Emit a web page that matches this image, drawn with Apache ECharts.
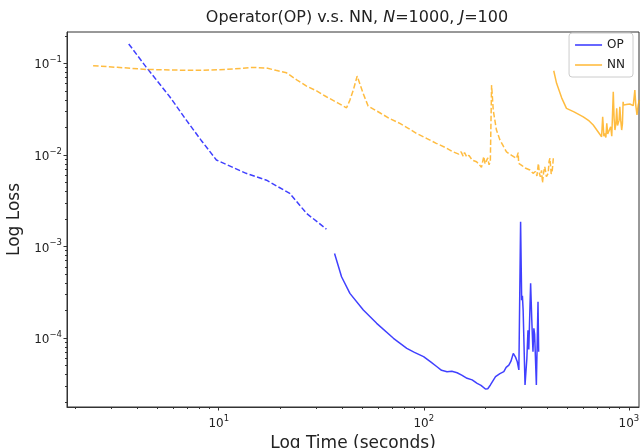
<!DOCTYPE html>
<html><head><meta charset="utf-8">
<script src="https://cdn.jsdelivr.net/npm/echarts@6/dist/echarts.min.js"></script>
<style>html,body{margin:0;padding:0;background:#fff}#c{width:641px;height:448px}</style>
</head><body><div id="c"></div>
<script>
const opDashedX = [3.64, 4.4, 5.77, 6.95, 8.2, 9.74, 11.5, 13.6, 17.1, 22.2, 26.8, 33.5];
const opDashedY = [0.163, 0.0927, 0.0432, 0.024, 0.0145, 0.0088, 0.00745, 0.0063, 0.0053, 0.0038, 0.0023, 0.00155];

const opSolidX = [36.7, 39.7, 43.6, 50.7, 58.9, 71.1, 82.6, 90, 99.7, 108, 115.9, 122, 129.8, 137, 145.3, 153, 162.5, 172, 182, 190, 199.7, 205, 211.2, 223.7, 235, 245.5, 252, 259.8, 266, 273, 280, 285.6, 290.7, 296.4, 300, 302.5, 305, 311.5, 318, 322, 325, 331.7, 336, 340.6, 344, 347, 353.8, 360.4, 363];
const opSolidY = [8.4e-4, 4.68e-4, 3.08e-4, 2.03e-4, 1.45e-4, 9.96e-5, 7.74e-5, 7.0e-5, 6.27e-5, 5.5e-5, 4.87e-5, 4.45e-5, 4.30e-5, 4.35e-5, 4.19e-5, 3.95e-5, 3.64e-5, 3.5e-5, 3.21e-5, 3.05e-5, 2.78e-5, 2.8e-5, 3.08e-5, 3.79e-5, 4.1e-5, 4.3e-5, 4.8e-5, 5.08e-5, 5.6e-5, 6.82e-5, 6.2e-5, 5.52e-5, 4.49e-5, 1.87e-3, 2.6e-4, 2.9e-4, 2.0e-4, 3.08e-5, 6.0e-5, 1.22e-4, 7.5e-5, 3.96e-4, 1.6e-4, 7.1e-5, 1.28e-4, 1.1e-4, 3.08e-5, 2.5e-4, 7.1e-5];

const nnDashedX = [2.44, 3.2, 4.43, 6, 7.5, 9, 10.9, 12.8, 14.7, 17.1, 19, 21.4, 24, 26.8, 30, 33.5, 38, 42, 43.6, 45.3, 47.3, 50.6, 53.5, 61, 68, 76.4, 84, 92, 103, 115, 127, 139, 148, 152, 155.5, 158, 162, 166, 172, 180.7, 186, 191, 196, 199, 202, 205, 208, 211, 214, 218, 226, 235, 245, 253, 268, 283, 288.5, 290, 300, 312, 329, 341, 350, 356, 362, 366, 370, 375, 379, 384, 389, 396, 404, 408, 412, 418, 423, 428];
const nnDashedY = [0.0942, 0.0905, 0.0859, 0.0845, 0.0839, 0.0845, 0.0859, 0.088, 0.0904, 0.0889, 0.084, 0.0789, 0.066, 0.0565, 0.05, 0.0432, 0.037, 0.0327, 0.0397, 0.051, 0.0726, 0.047, 0.0342, 0.0289, 0.025, 0.0221, 0.0195, 0.0172, 0.0152, 0.0134, 0.0121, 0.0108, 0.0102, 0.0108, 0.0097, 0.0106, 0.0095, 0.0099, 0.0088, 0.00843, 0.0079, 0.00732, 0.0096, 0.008, 0.00776, 0.0093, 0.0078, 0.0085, 0.058, 0.0309, 0.0187, 0.0146, 0.0123, 0.0108, 0.0099, 0.00918, 0.0106, 0.0081, 0.0077, 0.0072, 0.00684, 0.0063, 0.0066, 0.0059, 0.0081, 0.0063, 0.00578, 0.0068, 0.00497, 0.0065, 0.00743, 0.0058, 0.0063, 0.0085, 0.0092, 0.0062, 0.0068, 0.0092];

const nnSolidX = [430, 444, 470, 496, 540, 599, 640, 670, 700, 736, 745, 755, 764, 772, 780, 788, 795, 805, 815, 825, 839, 847, 855, 864, 872, 880, 889, 896, 903, 912, 922, 930, 937, 942, 955, 970, 990, 1010, 1030, 1050, 1069, 1080, 1095, 1110, 1125];
const nnSolidY = [0.083, 0.0605, 0.042, 0.0323, 0.0295, 0.0261, 0.0235, 0.0212, 0.0185, 0.0158, 0.0261, 0.016, 0.0172, 0.0155, 0.0221, 0.017, 0.0165, 0.0175, 0.0203, 0.016, 0.049, 0.025, 0.0187, 0.022, 0.0323, 0.021, 0.0203, 0.024, 0.0336, 0.024, 0.0187, 0.022, 0.0381, 0.035, 0.034, 0.0355, 0.0359, 0.036, 0.035, 0.0345, 0.0512, 0.035, 0.0273, 0.035, 0.04];

const threshold = 1e-4;
const xMajorTicks = [10, 100, 1000];
const xMinorTicks = [2,3,4,5,6,7,8,9,20,30,40,50,60,70,80,90,200,300,400,500,600,700,800,900];
const yMajorTicks = [1e-4, 1e-3, 1e-2, 1e-1];
const yMinorTicks = [2e-5,3e-5,4e-5,5e-5,6e-5,7e-5,8e-5,9e-5,2e-4,3e-4,4e-4,5e-4,6e-4,7e-4,8e-4,9e-4,2e-3,3e-3,4e-3,5e-3,6e-3,7e-3,8e-3,9e-3,2e-2,3e-2,4e-2,5e-2,6e-2,7e-2,8e-2,9e-2,0.2];

const xMin = 1.82, xMax = 1120, yMin = 1.77e-5, yMax = 0.22;
const pair = (xs, ys) => xs.map((x, i) => [x, ys[i]]);
const FONT = 'DejaVu Sans';
const blue = 'rgba(0,0,255,0.75)';
const orange = 'rgba(255,165,0,0.75)';

function sup(v) {
  const e = Math.round(Math.log10(v));
  return '{b|10}{s|' + (e < 0 ? '\u2212' + (-e) : String(e)) + '}';
}
const rich = {
  b: {fontFamily: FONT, fontSize: 12, color: '#222', lineHeight: 16, verticalAlign: 'bottom'},
  s: {fontFamily: FONT, fontSize: 8.5, color: '#222', lineHeight: 16, verticalAlign: 'top'}
};

const chart = echarts.init(document.getElementById('c'), null, {renderer: 'canvas'});
const axisColor = '#333';
chart.setOption({
  animation: false,
  backgroundColor: '#fff',
  title: {
    text: '{n|Operator(OP) v.s. NN, }{i|N}{n|=1000, }{i|J}{n|=100}',
    left: 352, top: 5, textAlign: 'center',
    textStyle: {
      fontWeight: 'normal',
      rich: {
        n: {fontFamily: FONT, fontSize: 16, fontWeight: 'normal', color: '#222'},
        i: {fontFamily: FONT, fontSize: 16, fontWeight: 'normal', fontStyle: 'italic', color: '#222'}
      }
    }
  },
  legend: {
    right: 8, top: 33, orient: 'vertical',
    icon: 'rect', itemWidth: 27, itemHeight: 1.6, itemGap: 6,
    padding: [5, 8, 5, 6],
    borderColor: '#ccc', borderWidth: 1, borderRadius: 3,
    backgroundColor: 'rgba(255,255,255,0.8)',
    textStyle: {fontFamily: FONT, fontSize: 12, color: '#222', lineHeight: 14},
    data: ['OP', 'NN']
  },
  grid: {left: 67, right: 2, top: 32, bottom: 41, containLabel: false, outerBoundsMode: 'none',
         show: true, borderColor: axisColor, borderWidth: 1},
  xAxis: [
    {
      type: 'log', logBase: 10, min: xMin, max: xMax,
      name: 'Log Time (seconds)', nameLocation: 'middle', nameGap: 23,
      nameTextStyle: {fontFamily: FONT, fontSize: 17, color: '#222'},
      axisLine: {show: true, onZero: false, lineStyle: {color: axisColor}},
      axisTick: {show: true, length: 3.5, customValues: xMajorTicks, lineStyle: {color: axisColor}},
      axisLabel: {customValues: xMajorTicks, margin: 7, formatter: v => sup(v), rich: rich},
      splitLine: {show: false}, minorTick: {show: false}
    },
    {
      type: 'log', logBase: 10, min: xMin, max: xMax, position: 'bottom',
      axisLine: {show: false},
      axisTick: {show: true, length: 2, customValues: xMinorTicks, lineStyle: {color: axisColor}},
      axisLabel: {show: false}, splitLine: {show: false}
    }
  ],
  yAxis: [
    {
      type: 'log', logBase: 10, min: yMin, max: yMax,
      name: 'Log Loss', nameLocation: 'middle', nameGap: 42, nameRotate: 90,
      nameTextStyle: {fontFamily: FONT, fontSize: 17, color: '#222'},
      axisLine: {show: true, onZero: false, lineStyle: {color: axisColor}},
      axisTick: {show: true, length: 3.5, customValues: yMajorTicks, lineStyle: {color: axisColor}},
      axisLabel: {customValues: yMajorTicks, margin: 5, formatter: v => sup(v), rich: rich},
      splitLine: {show: false}
    },
    {
      type: 'log', logBase: 10, min: yMin, max: yMax, position: 'left',
      axisLine: {show: false},
      axisTick: {show: true, length: 2, customValues: yMinorTicks, lineStyle: {color: axisColor}},
      axisLabel: {show: false}, splitLine: {show: false}
    }
  ],
  series: [
    {
      name: 'OP', type: 'line', data: pair(opSolidX, opSolidY), symbol: 'none',
      lineStyle: {color: blue, width: 1.5, type: 'solid'}, itemStyle: {color: blue},
      markLine: {
        silent: true, symbol: ['none', 'none'], label: {show: false},
        lineStyle: {color: 'rgba(255,0,0,0.75)', type: [1.5, 2.5], width: 1.5},
        data: [{yAxis: threshold}]
      }
    },
    {
      name: 'NN', type: 'line', data: pair(nnSolidX, nnSolidY), symbol: 'none',
      lineStyle: {color: orange, width: 1.5, type: 'solid'}, itemStyle: {color: orange}
    },
    {
      name: 'OP', type: 'line', data: pair(opDashedX, opDashedY), symbol: 'none',
      lineStyle: {color: blue, width: 1.5, type: [5.5, 2.4]}, itemStyle: {color: blue}
    },
    {
      name: 'NN', type: 'line', data: pair(nnDashedX, nnDashedY), symbol: 'none',
      lineStyle: {color: orange, width: 1.5, type: [5.5, 2.4]}, itemStyle: {color: orange}
    }
  ]
});
</script>
</body></html>
